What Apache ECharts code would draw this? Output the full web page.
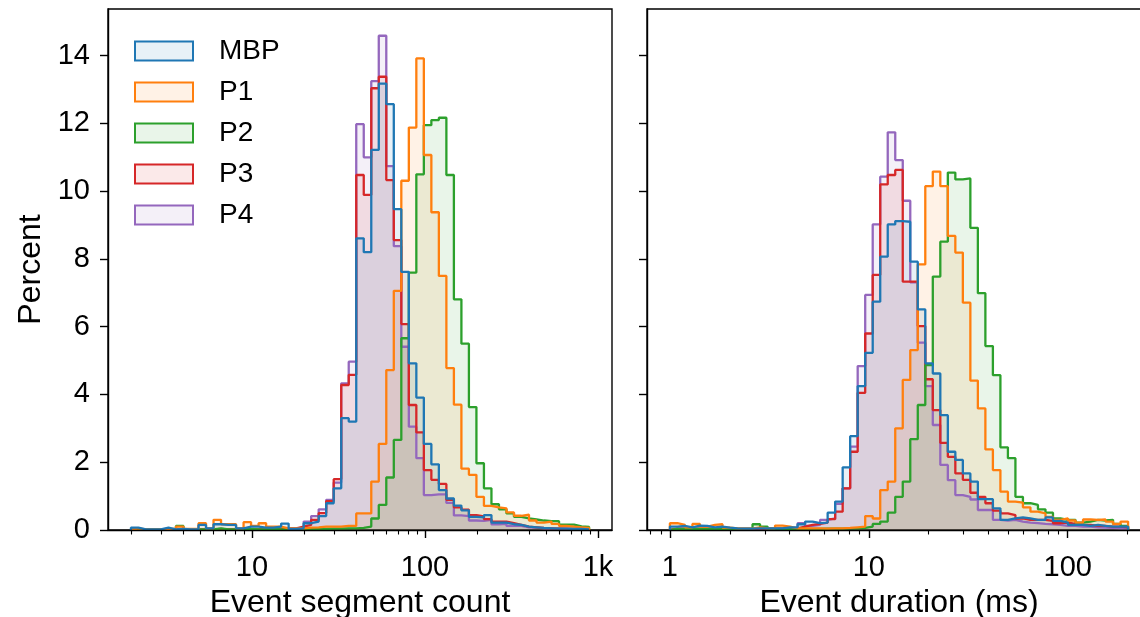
<!DOCTYPE html>
<html>
<head>
<meta charset="utf-8">
<script src="https://cdn.jsdelivr.net/npm/echarts@6/dist/echarts.min.js"></script>
<style>
html,body{margin:0;padding:0;background:#fff;}
#chart{width:1140px;height:617px;}
</style>
</head>
<body>
<div id="chart"></div>
<script>
// ---------- data ----------
const seriesNames = ['MBP', 'P1', 'P2', 'P3', 'P4'];
const seriesColors = ['#1f77b4', '#ff7f0e', '#2ca02c', '#d62728', '#9467bd'];

// Left panel: event segment count, 61 log-spaced bins starting at 2
const segBinStart = 2;
const segBinLogWidth = 0.0434;
const segMBP = [0.07,0.02,0.02,0.02,0.07,0.02,0.03,0.02,0.02,0.15,0.05,0.17,0.15,0.15,0.05,0.10,0.10,0.07,0.07,0.10,
  0.19,0.03,0.05,0.20,0.25,0.41,0.79,1.23,3.30,3.20,8.61,8.20,11.22,13.18,12.57,9.47,7.62,4.92,3.91,2.54,
  1.94,1.18,0.93,0.72,0.58,0.39,0.37,0.44,0.22,0.22,0.17,0.15,0.10,0.08,0.06,0.05,0.04,0.04,0.03,0.03,0.02];
const segP1 = [0.05,0.02,0.02,0.02,0.03,0.03,0.10,0.03,0.03,0.20,0.05,0.30,0.17,0.17,0.05,0.23,0.12,0.20,0.10,0.10,
  0.05,0.05,0.05,0.07,0.08,0.10,0.10,0.10,0.12,0.12,0.49,0.49,1.43,2.54,4.72,7.06,10.31,11.88,13.92,11.07,
  9.38,7.50,4.78,3.70,1.81,1.63,0.98,0.71,0.67,0.64,0.52,0.42,0.45,0.28,0.22,0.25,0.18,0.12,0.10,0.08,0.06];
const segP2 = [0.02,0.02,0.02,0.02,0.02,0.02,0.12,0.02,0.02,0.02,0.02,0.05,0.02,0.02,0.02,0.03,0.02,0.02,0.03,0.02,
  0.02,0.02,0.02,0.03,0.03,0.03,0.04,0.04,0.05,0.05,0.06,0.10,0.34,0.74,1.55,2.66,5.66,7.60,10.50,11.95,
  12.10,12.17,10.48,6.81,5.50,3.63,1.97,1.23,0.76,0.61,0.49,0.39,0.34,0.31,0.28,0.26,0.26,0.16,0.16,0.11,0.09];
const segP3 = [0.02,0.02,0.02,0.02,0.02,0.02,0.02,0.02,0.02,0.02,0.02,0.03,0.02,0.02,0.02,0.02,0.02,0.02,0.03,0.02,
  0.05,0.05,0.10,0.15,0.30,0.50,0.85,1.50,4.28,4.58,10.48,9.89,13.04,13.38,10.33,8.56,6.08,3.69,2.88,1.77,
  1.48,1.36,0.89,0.67,0.60,0.44,0.40,0.32,0.25,0.25,0.20,0.15,0.10,0.08,0.06,0.05,0.04,0.04,0.03,0.03,0.02];
const segP4 = [0.02,0.02,0.02,0.02,0.02,0.02,0.02,0.02,0.02,0.02,0.02,0.02,0.02,0.02,0.02,0.02,0.02,0.02,0.02,0.02,
  0.03,0.03,0.05,0.25,0.41,0.61,0.89,1.40,4.33,4.97,11.98,11.00,13.25,14.59,10.74,8.38,5.41,3.05,2.12,1.03,
  1.05,1.05,0.80,0.43,0.41,0.28,0.27,0.30,0.17,0.18,0.12,0.12,0.08,0.07,0.05,0.04,0.04,0.03,0.03,0.02,0.02];

// Right panel: event duration (ms), 61 log-spaced bins starting at 1
const durBinStart = 1;
const durBinLogWidth = 0.03776;
const durMBP = [0.10,0.12,0.08,0.13,0.12,0.08,0.10,0.07,0.05,0.04,0.04,0.05,0.05,0.05,0.05,0.08,0.08,0.17,0.25,0.20,
  0.22,0.51,0.84,1.85,2.77,4.25,5.23,6.74,8.07,9.02,9.12,9.10,7.92,6.51,4.92,4.62,3.39,2.31,2.07,1.67,
  1.43,0.91,0.91,0.64,0.30,0.34,0.37,0.34,0.30,0.30,0.37,0.27,0.22,0.15,0.15,0.12,0.15,0.12,0.10,0.10,0.10];
const durP1 = [0.20,0.15,0.08,0.18,0.10,0.15,0.17,0.07,0.05,0.04,0.04,0.08,0.05,0.05,0.13,0.10,0.05,0.05,0.05,0.05,
  0.04,0.05,0.05,0.06,0.08,0.10,0.41,0.34,1.18,1.43,3.00,4.43,5.31,7.84,10.15,10.58,10.15,8.68,8.19,6.71,
  4.41,3.59,2.38,1.77,1.13,0.84,0.81,0.67,0.54,0.49,0.39,0.30,0.34,0.28,0.22,0.31,0.30,0.31,0.25,0.18,0.25];
const durP2 = [0.03,0.03,0.03,0.03,0.03,0.03,0.03,0.03,0.03,0.03,0.03,0.17,0.10,0.03,0.03,0.03,0.03,0.03,0.03,0.03,
  0.04,0.04,0.04,0.05,0.05,0.06,0.10,0.18,0.25,0.51,0.98,1.43,2.68,3.69,4.87,7.48,8.51,10.55,10.35,10.38,
  8.92,6.99,5.43,4.57,2.44,2.12,0.98,0.79,0.74,0.61,0.51,0.34,0.30,0.30,0.22,0.25,0.30,0.28,0.30,0.18,0.12];
const durP3 = [0.04,0.04,0.04,0.04,0.04,0.04,0.04,0.04,0.03,0.03,0.03,0.04,0.04,0.04,0.04,0.05,0.05,0.10,0.15,0.18,
  0.22,0.32,0.54,1.23,2.31,4.05,5.80,7.53,10.20,10.48,10.63,7.33,7.33,6.02,4.45,3.54,2.57,2.16,1.67,1.48,
  1.10,0.98,0.79,0.57,0.49,0.44,0.34,0.30,0.30,0.30,0.27,0.20,0.22,0.18,0.15,0.15,0.12,0.12,0.10,0.10,0.08];
const durP4 = [0.03,0.03,0.03,0.03,0.03,0.03,0.03,0.03,0.03,0.03,0.03,0.03,0.03,0.03,0.03,0.03,0.05,0.20,0.12,0.15,
  0.30,0.34,0.77,1.23,2.46,4.84,6.94,9.02,10.43,11.74,10.92,9.72,7.31,5.53,4.25,3.10,1.92,1.47,1.03,0.98,
  0.90,0.59,0.59,0.30,0.28,0.30,0.25,0.22,0.20,0.18,0.17,0.15,0.12,0.12,0.10,0.10,0.08,0.07,0.06,0.05,0.05];

// Tick labels
const segTickValues = [10, 100, 1000];
const segTickLabels = ['10', '100', '1k'];
const durTickValues = [1, 10, 100];
const durTickLabels = ['1', '10', '100'];
const yTickValues = [0, 2, 4, 6, 8, 10, 12, 14];
const yMax = 15.38;

const segData = [segMBP, segP1, segP2, segP3, segP4];
const durData = [durMBP, durP1, durP2, durP3, durP4];

// ---------- helpers ----------
const FONT = "'Liberation Sans', Arial, Helvetica, sans-serif";
function stepPoints(start, logW, values) {
  const l0 = Math.log10(start);
  const pts = [[l0, 0]];
  values.forEach((v, i) => {
    pts.push([l0 + i * logW, v]);
    pts.push([l0 + (i + 1) * logW, v]);
  });
  pts.push([l0 + values.length * logW, 0]);
  return pts;
}
function extentOf(start, logW, n) {
  const lo = Math.log10(start), hi = lo + n * logW, m = 0.05 * (hi - lo);
  return [lo - m, hi + m];
}
function minorTicks(ext) {
  const out = [];
  for (let d = Math.floor(ext[0]); d <= Math.ceil(ext[1]); d++) {
    for (let k = 2; k <= 9; k++) {
      const v = d + Math.log10(k);
      if (v > ext[0] && v < ext[1]) out.push(v);
    }
  }
  return out;
}
function rgba(hex, a) {
  const n = parseInt(hex.slice(1), 16);
  return `rgba(${(n >> 16) & 255},${(n >> 8) & 255},${n & 255},${a})`;
}
const segExt = extentOf(segBinStart, segBinLogWidth, segMBP.length);
const durExt = extentOf(durBinStart, durBinLogWidth, durMBP.length);

function majorAxis(grid, ext, tickVals, tickLabels, name) {
  const logs = tickVals.map(Math.log10);
  return {
    gridIndex: grid, type: 'value', min: ext[0], max: ext[1], position: 'bottom', z: 5,
    axisLine: {show: true, onZero: false, lineStyle: {color: '#000', width: 1.4}},
    axisTick: {show: true, customValues: logs, length: 8, lineStyle: {color: '#000', width: 1.4}},
    axisLabel: {
      show: true, customValues: logs, fontSize: 29, color: '#000', fontFamily: FONT, margin: 23,
      formatter: v => { const i = logs.findIndex(l => Math.abs(l - v) < 1e-6); return i >= 0 ? tickLabels[i] : ''; }
    },
    splitLine: {show: false},
    name: name, nameLocation: 'middle', nameGap: 57,
    nameTextStyle: {fontSize: 32, color: '#000', fontFamily: FONT}
  };
}
function minorAxis(grid, ext) {
  return {
    gridIndex: grid, type: 'value', min: ext[0], max: ext[1], position: 'bottom', z: 5,
    axisLine: {show: false},
    axisTick: {show: true, customValues: minorTicks(ext), length: 4.5, lineStyle: {color: '#000', width: 1.1}},
    axisLabel: {show: false},
    splitLine: {show: false}
  };
}
function yAxisOf(grid, showLabels) {
  const ax = {
    gridIndex: grid, type: 'value', min: 0, max: yMax, z: 5,
    axisLine: {show: true, onZero: false, lineStyle: {color: '#000', width: 1.4}},
    axisTick: {show: true, customValues: yTickValues, length: 8, lineStyle: {color: '#000', width: 1.4}},
    axisLabel: {show: showLabels, customValues: yTickValues, fontSize: 29, color: '#000', fontFamily: FONT, margin: 18},
    splitLine: {show: false}
  };
  if (showLabels) {
    ax.name = 'Percent'; ax.nameLocation = 'middle'; ax.nameGap = 61;
    ax.nameTextStyle = {fontSize: 32, color: '#000', fontFamily: FONT};
  }
  return ax;
}

const series = [];
// draw P4 first so MBP ends up on top
for (let s = seriesNames.length - 1; s >= 0; s--) {
  [[0, segData[s], segBinStart, segBinLogWidth], [2, durData[s], durBinStart, durBinLogWidth]].forEach(([xi, vals, st, w]) => {
    series.push({
      type: 'line', name: seriesNames[s], xAxisIndex: xi, yAxisIndex: xi === 0 ? 0 : 1,
      data: stepPoints(st, w, vals), showSymbol: false, symbol: 'none', silent: true,
      color: seriesColors[s],
      lineStyle: {color: seriesColors[s], width: 2.3},
      areaStyle: {color: seriesColors[s], opacity: 0.1},
      z: 2
    });
  });
}

const gridBase = {top: 9, width: 504, height: 521, show: true, borderColor: '#000', borderWidth: 1.4,
  backgroundColor: 'transparent', containLabel: false, outerBoundsMode: 'none'};

const chart = echarts.init(document.getElementById('chart'), null, {renderer: 'canvas'});
chart.setOption({
  animation: false,
  backgroundColor: '#fff',
  textStyle: {fontFamily: FONT},
  grid: [
    Object.assign({left: 108}, gridBase),
    Object.assign({left: 647}, gridBase)
  ],
  xAxis: [
    majorAxis(0, segExt, segTickValues, segTickLabels, 'Event segment count'),
    minorAxis(0, segExt),
    majorAxis(1, durExt, durTickValues, durTickLabels, 'Event duration (ms)'),
    minorAxis(1, durExt)
  ],
  yAxis: [yAxisOf(0, true), yAxisOf(1, false)],
  legend: {
    orient: 'vertical', left: 134, top: 37, padding: 0, icon: 'rect',
    itemWidth: 58, itemHeight: 19, itemGap: 13,
    textStyle: {fontSize: 28, color: '#000', fontFamily: FONT, padding: [0, 0, 0, 21]},
    data: seriesNames.map((n, i) => ({
      name: n,
      itemStyle: {color: rgba(seriesColors[i], 0.1), borderColor: seriesColors[i], borderWidth: 2}
    }))
  },
  series: series
});
</script>
</body>
</html>
